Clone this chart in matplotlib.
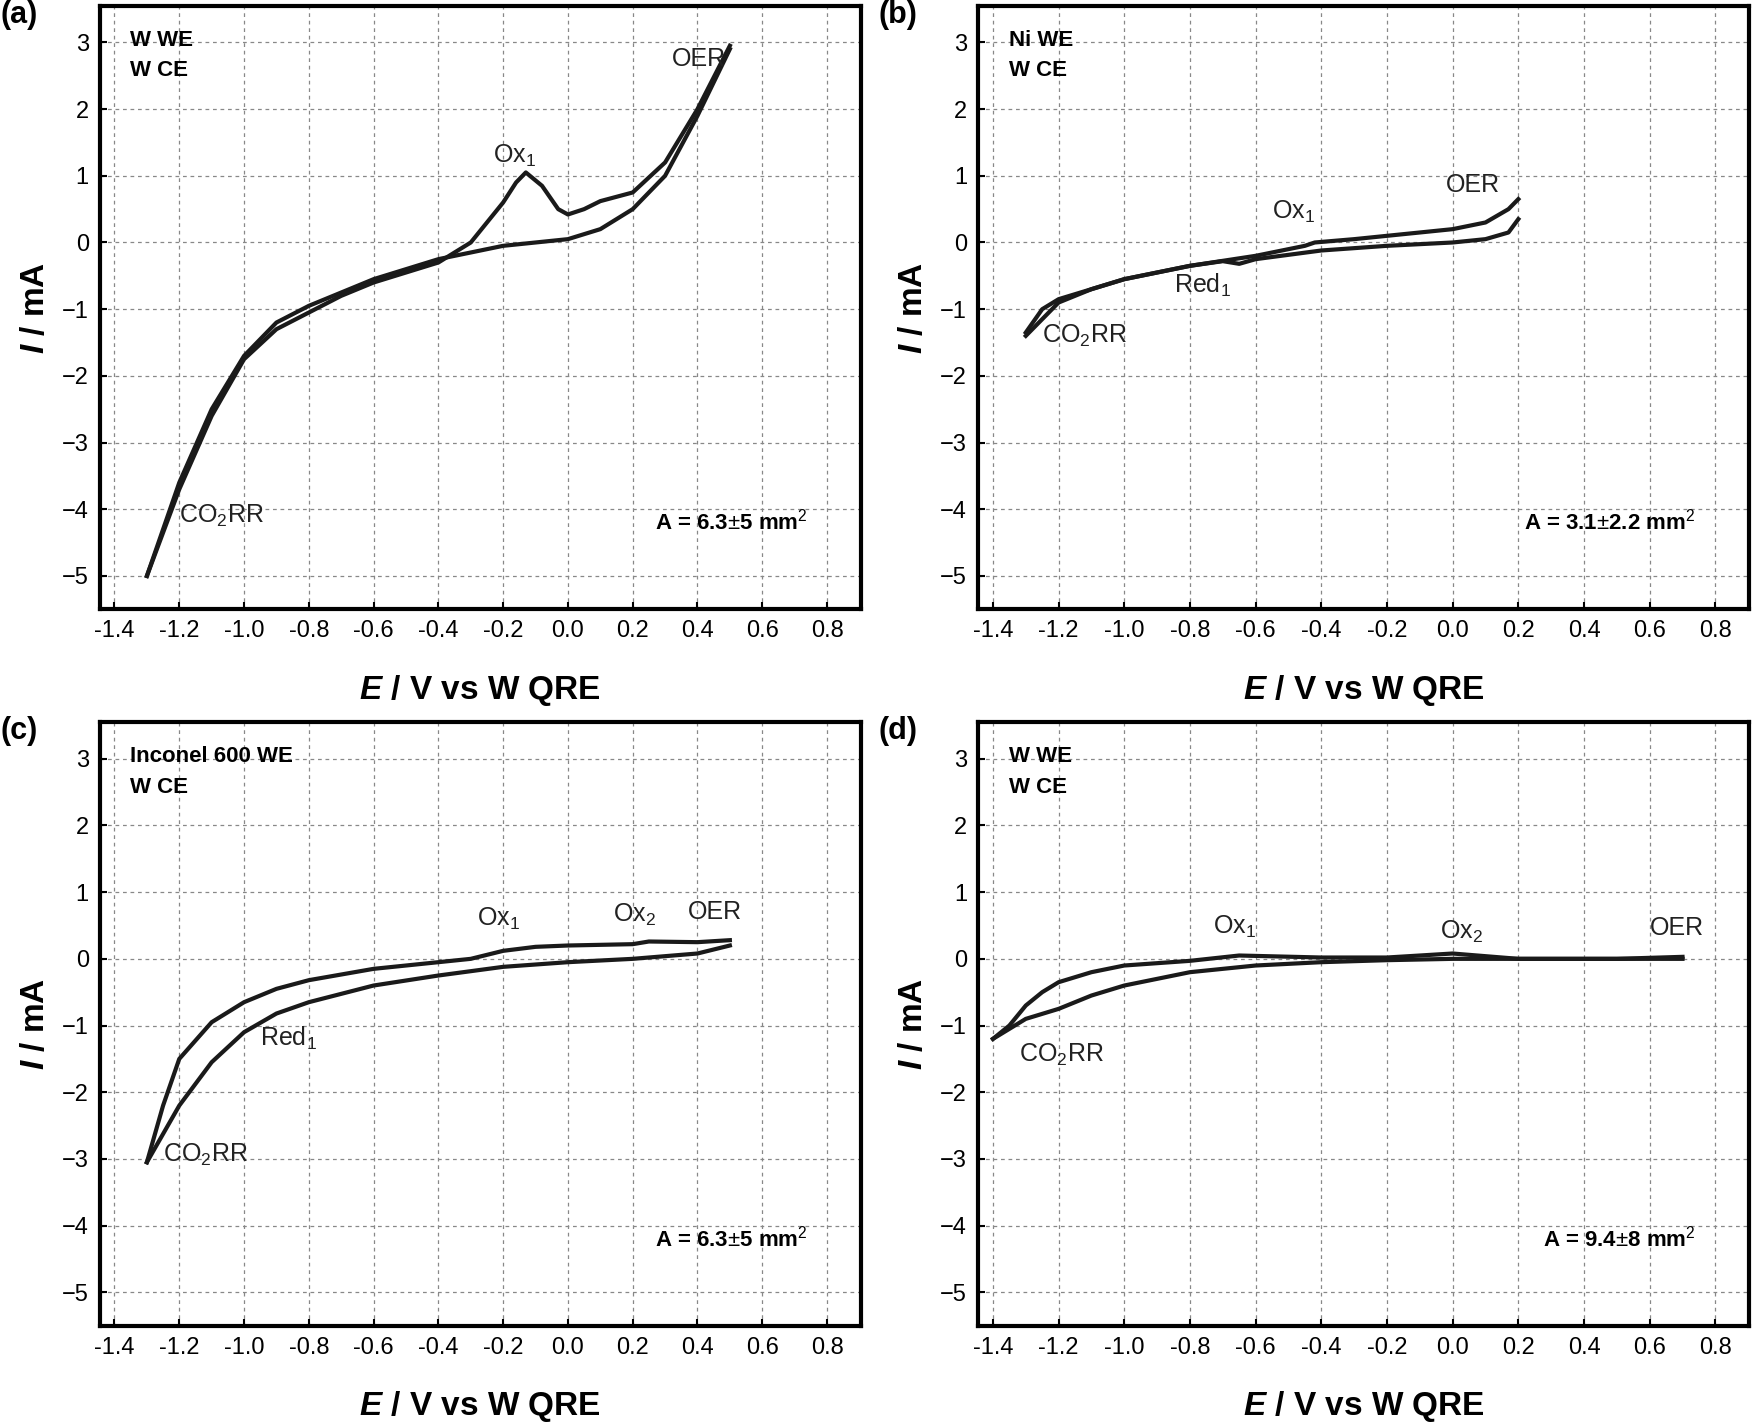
import matplotlib
matplotlib.use('Agg')
import matplotlib.pyplot as plt

plt.rcParams['font.family'] = ['Liberation Sans', 'DejaVu Sans']
plt.rcParams['mathtext.fontset'] = 'custom'
plt.rcParams['mathtext.it'] = 'Liberation Sans:italic:bold'
plt.rcParams['mathtext.rm'] = 'Liberation Sans'

# (a) W WE / W CE
a_fwd_E = [-1.3, -1.2, -1.1, -1.0, -0.9, -0.8, -0.7, -0.6, -0.5, -0.4, -0.3, -0.2, -0.16, -0.13, -0.08, -0.03, 0.0, 0.05, 0.1, 0.2, 0.3, 0.4, 0.5]
a_fwd_I = [-5.0, -3.7, -2.6, -1.75, -1.3, -1.05, -0.8, -0.6, -0.45, -0.3, 0.0, 0.6, 0.9, 1.05, 0.85, 0.5, 0.42, 0.5, 0.62, 0.75, 1.2, 2.0, 2.95]
a_rev_E = [0.5, 0.4, 0.3, 0.2, 0.1, 0.0, -0.2, -0.4, -0.6, -0.8, -0.9, -1.0, -1.1, -1.2, -1.3]
a_rev_I = [2.9, 1.9, 1.0, 0.5, 0.2, 0.05, -0.05, -0.25, -0.55, -0.95, -1.2, -1.7, -2.5, -3.6, -5.0]

# (b) Ni WE / W CE
b_fwd_E = [-1.3, -1.25, -1.2, -1.1, -1.0, -0.9, -0.8, -0.6, -0.45, -0.42, -0.3, -0.1, 0.0, 0.1, 0.17, 0.2]
b_fwd_I = [-1.35, -1.0, -0.85, -0.7, -0.55, -0.45, -0.35, -0.2, -0.05, 0.0, 0.05, 0.15, 0.2, 0.3, 0.5, 0.65]
b_rev_E = [0.2, 0.17, 0.1, 0.0, -0.2, -0.4, -0.6, -0.65, -0.7, -0.8, -1.0, -1.1, -1.2, -1.3]
b_rev_I = [0.35, 0.15, 0.05, 0.0, -0.05, -0.12, -0.25, -0.32, -0.28, -0.35, -0.55, -0.7, -0.9, -1.4]

# (c) Inconel 600 WE / W CE
c_fwd_E = [-1.3, -1.25, -1.2, -1.1, -1.0, -0.9, -0.8, -0.6, -0.4, -0.3, -0.2, -0.1, 0.0, 0.2, 0.25, 0.4, 0.5]
c_fwd_I = [-3.05, -2.2, -1.5, -0.95, -0.65, -0.45, -0.32, -0.15, -0.05, 0.0, 0.12, 0.18, 0.2, 0.22, 0.26, 0.25, 0.28]
c_rev_E = [0.5, 0.4, 0.2, 0.0, -0.2, -0.4, -0.6, -0.8, -0.9, -1.0, -1.1, -1.2, -1.3]
c_rev_I = [0.2, 0.08, 0.0, -0.05, -0.12, -0.25, -0.4, -0.65, -0.82, -1.1, -1.55, -2.2, -3.05]

# (d) W WE / W CE
d_fwd_E = [-1.4, -1.35, -1.3, -1.25, -1.2, -1.1, -1.0, -0.8, -0.65, -0.4, -0.2, 0.0, 0.2, 0.5, 0.7]
d_fwd_I = [-1.2, -1.0, -0.7, -0.5, -0.35, -0.2, -0.1, -0.03, 0.05, 0.02, 0.02, 0.08, 0.0, 0.0, 0.03]
d_rev_E = [0.7, 0.4, 0.2, 0.0, -0.2, -0.4, -0.6, -0.8, -1.0, -1.1, -1.2, -1.3, -1.4]
d_rev_I = [0.0, 0.0, 0.0, 0.0, -0.02, -0.05, -0.1, -0.2, -0.4, -0.55, -0.75, -0.9, -1.2]

x_ticks = [-1.4, -1.2, -1.0, -0.8, -0.6, -0.4, -0.2, 0.0, 0.2, 0.4, 0.6, 0.8]
y_ticks = [-5, -4, -3, -2, -1, 0, 1, 2, 3]

panels = [
    ('(a)', 'W WE\nW CE', 'A = 6.3$\\pm$5 mm$^2$', a_fwd_E, a_fwd_I, a_rev_E, a_rev_I,
     [('OER', 0.32, 2.65), ('Ox$_1$', -0.23, 1.2), ('CO$_2$RR', -1.2, -4.2)]),
    ('(b)', 'Ni WE\nW CE', 'A = 3.1$\\pm$2.2 mm$^2$', b_fwd_E, b_fwd_I, b_rev_E, b_rev_I,
     [('OER', -0.02, 0.75), ('Ox$_1$', -0.55, 0.35), ('Red$_1$', -0.85, -0.75), ('CO$_2$RR', -1.25, -1.5)]),
    ('(c)', 'Inconel 600 WE\nW CE', 'A = 6.3$\\pm$5 mm$^2$', c_fwd_E, c_fwd_I, c_rev_E, c_rev_I,
     [('OER', 0.37, 0.6), ('Ox$_1$', -0.28, 0.5), ('Ox$_2$', 0.14, 0.55), ('Red$_1$', -0.95, -1.3), ('CO$_2$RR', -1.25, -3.05)]),
    ('(d)', 'W WE\nW CE', 'A = 9.4$\\pm$8 mm$^2$', d_fwd_E, d_fwd_I, d_rev_E, d_rev_I,
     [('OER', 0.6, 0.35), ('Ox$_1$', -0.73, 0.38), ('Ox$_2$', -0.04, 0.3), ('CO$_2$RR', -1.32, -1.55)]),
]

positions = [
    [0.057, 0.573, 0.434, 0.423],
    [0.558, 0.573, 0.440, 0.423],
    [0.057, 0.071, 0.434, 0.423],
    [0.558, 0.071, 0.440, 0.423],
]

fig = plt.figure(figsize=(17.53, 14.27), dpi=100)

for (lab, elec, area, fE, fI, rE, rI, notes), pos in zip(panels, positions):
    ax = fig.add_axes(pos)
    ax.plot(fE, fI, color='#1a1a1a', lw=3)
    ax.plot(rE, rI, color='#1a1a1a', lw=3)
    ax.set_xlim(-1.445, 0.904)
    ax.set_ylim(-5.5, 3.55)
    ax.set_xticks(x_ticks)
    ax.set_xticklabels([f'{v:.1f}' for v in x_ticks])
    ax.set_yticks(y_ticks)
    ax.grid(True, ls=(0, (3, 3)), color='#888888', lw=0.9)
    for s in ax.spines.values():
        s.set_linewidth(3)
    ax.tick_params(direction='in', length=5, width=1.5, labelsize=17, pad=8)
    ax.set_xlabel('$E$ / V vs W QRE', fontsize=24, fontweight='bold', labelpad=22)
    ax.set_ylabel('$I$ / mA', fontsize=24, fontweight='bold', labelpad=8)
    ax.text(0.04, 0.96, elec, transform=ax.transAxes, fontsize=16, fontweight='bold',
            va='top', ha='left', linespacing=1.6)
    ax.text(0.93, 0.145, area, transform=ax.transAxes, fontsize=16, fontweight='bold',
            ha='right', va='center')
    for t, x, y in notes:
        ax.text(x, y, t, fontsize=18, color='#222222')
    fig.text(pos[0] - 0.057, pos[1] + pos[3] - 0.012, lab, fontsize=22, fontweight='bold')

fig.savefig('out.png', dpi=100)
